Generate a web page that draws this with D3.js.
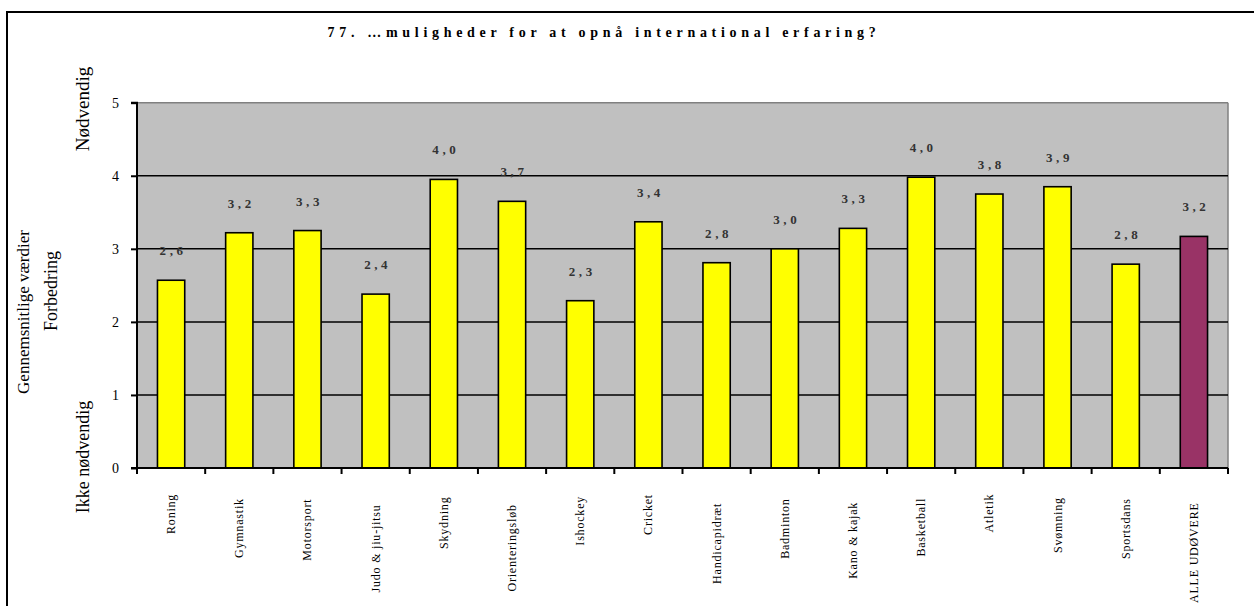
<!DOCTYPE html>
<html><head><meta charset="utf-8">
<script src="https://cdn.jsdelivr.net/npm/d3@7"></script>
<style>
html,body{margin:0;padding:0;background:#fff;}
svg{display:block;font-family:"Liberation Serif","Times New Roman",serif;}
</style></head>
<body><svg id="c" width="1254" height="606"></svg>
<script>
const categories = ["Roning","Gymnastik","Motorsport","Judo & jiu-jitsu","Skydning","Orienteringsløb","Ishockey","Cricket","Handicapidræt","Badminton","Kano & kajak","Basketball","Atletik","Svømning","Sportsdans","ALLE UDØVERE"];
const values = [2.57,3.22,3.25,2.38,3.95,3.65,2.29,3.37,2.81,3.00,3.28,3.98,3.75,3.85,2.79,3.17];
const valueLabels = ["2,6","3,2","3,3","2,4","4,0","3,7","2,3","3,4","2,8","3,0","3,3","4,0","3,8","3,9","2,8","3,2"];
const yTicks = [0,1,2,3,4,5];
const title = "77. …muligheder for at opnå international erfaring?";

const svg = d3.select("#c");
const L = 137, R = 1228, T = 102.7, B = 468;

// outer border
svg.append("rect").attr("x",7).attr("y",12).attr("width",1270).attr("height",620)
  .attr("fill","none").attr("stroke","#000").attr("stroke-width",2);

const x = d3.scaleBand().domain(categories).range([L,R]).paddingInner(0.6).paddingOuter(0.3);
const y = d3.scaleLinear().domain([0,5]).range([B,T]);

// plot area
svg.append("rect").attr("x",L).attr("y",T).attr("width",R-L).attr("height",B-T).attr("fill","#c0c0c0");
svg.append("line").attr("x1",L).attr("x2",R).attr("y1",y(5)).attr("y2",y(5)).attr("stroke","#808080").attr("stroke-width",1.5);
svg.append("line").attr("x1",R).attr("x2",R).attr("y1",T).attr("y2",B).attr("stroke","#808080").attr("stroke-width",1.5);

// gridlines
svg.selectAll("line.grid").data(yTicks.filter(d=>d>0&&d<5)).join("line").attr("class","grid")
  .attr("x1",L).attr("x2",R).attr("y1",d=>y(d)).attr("y2",d=>y(d)).attr("stroke","#000").attr("stroke-width",1.5);

// bars
svg.selectAll("rect.bar").data(values).join("rect").attr("class","bar")
  .attr("x",(d,i)=>x(categories[i])).attr("width",x.bandwidth())
  .attr("y",d=>y(d)).attr("height",d=>B-y(d))
  .attr("fill",(d,i)=>i===categories.length-1?"#993366":"#ffff00")
  .attr("stroke","#000").attr("stroke-width",1.6);

// value labels
svg.selectAll("text.vl").data(values).join("text").attr("class","vl")
  .attr("x",(d,i)=>x(categories[i])+x.bandwidth()/2+2).attr("y",d=>y(d)-25)
  .attr("text-anchor","middle").attr("font-size",13).attr("letter-spacing",3.6)
  .attr("font-weight","bold").attr("fill","#333")
  .text((d,i)=>valueLabels[i]);

// y axis
const yAxis = d3.axisLeft(y).tickValues(yTicks).tickSize(6).tickPadding(12).tickFormat(d3.format("d"));
const gy = svg.append("g").attr("transform",`translate(${L},0)`).call(yAxis);
gy.select(".domain").attr("stroke","#000").attr("stroke-width",2).attr("d",`M-6,${B}H0V${T}H-6`);
gy.selectAll(".tick line").attr("stroke","#000").attr("stroke-width",2);
gy.selectAll(".tick text").attr("font-family","Liberation Serif").attr("font-size",14).attr("fill","#000");

// x axis
const step = x.step();
const bounds = d3.range(categories.length+1).map(i=>L+i*step);
svg.append("line").attr("x1",L).attr("x2",R).attr("y1",B).attr("y2",B).attr("stroke","#000").attr("stroke-width",2);
svg.selectAll("line.xt").data(bounds).join("line").attr("class","xt")
  .attr("x1",d=>d).attr("x2",d=>d).attr("y1",B).attr("y2",B+6).attr("stroke","#000").attr("stroke-width",2);
const xl = svg.selectAll("text.xl").data(categories).join("text").attr("class","xl")
  .attr("font-size",12).attr("letter-spacing",0.8).attr("fill","#000").attr("text-anchor","end")
  .text(d=>d);
xl.each(function(d){
  const len = this.getComputedTextLength();
  const cx = x(d)+x.bandwidth()/2+4;
  const top = Math.min(485 + 0.22*len, 603 - len);
  d3.select(this).attr("transform",`translate(${cx},${top}) rotate(-90)`);
});

// title
svg.append("text").attr("x",604).attr("y",37).attr("text-anchor","middle")
  .attr("font-size",14).attr("font-weight","bold").attr("letter-spacing",4.7).text(title);

// left axis titles
function vtext(cx, cy, txt, size){
  svg.append("text").attr("transform",`translate(${cx},${cy}) rotate(-90)`)
    .attr("text-anchor","middle").attr("font-size",size).attr("fill","#000").text(txt);
}
vtext(89,109,"Nødvendig",19);
vtext(29,312,"Gennemsnitlige værdier",17);
vtext(57,291,"Forbedring",18);
vtext(89,457,"Ikke nødvendig",18);
</script>
</body></html>
